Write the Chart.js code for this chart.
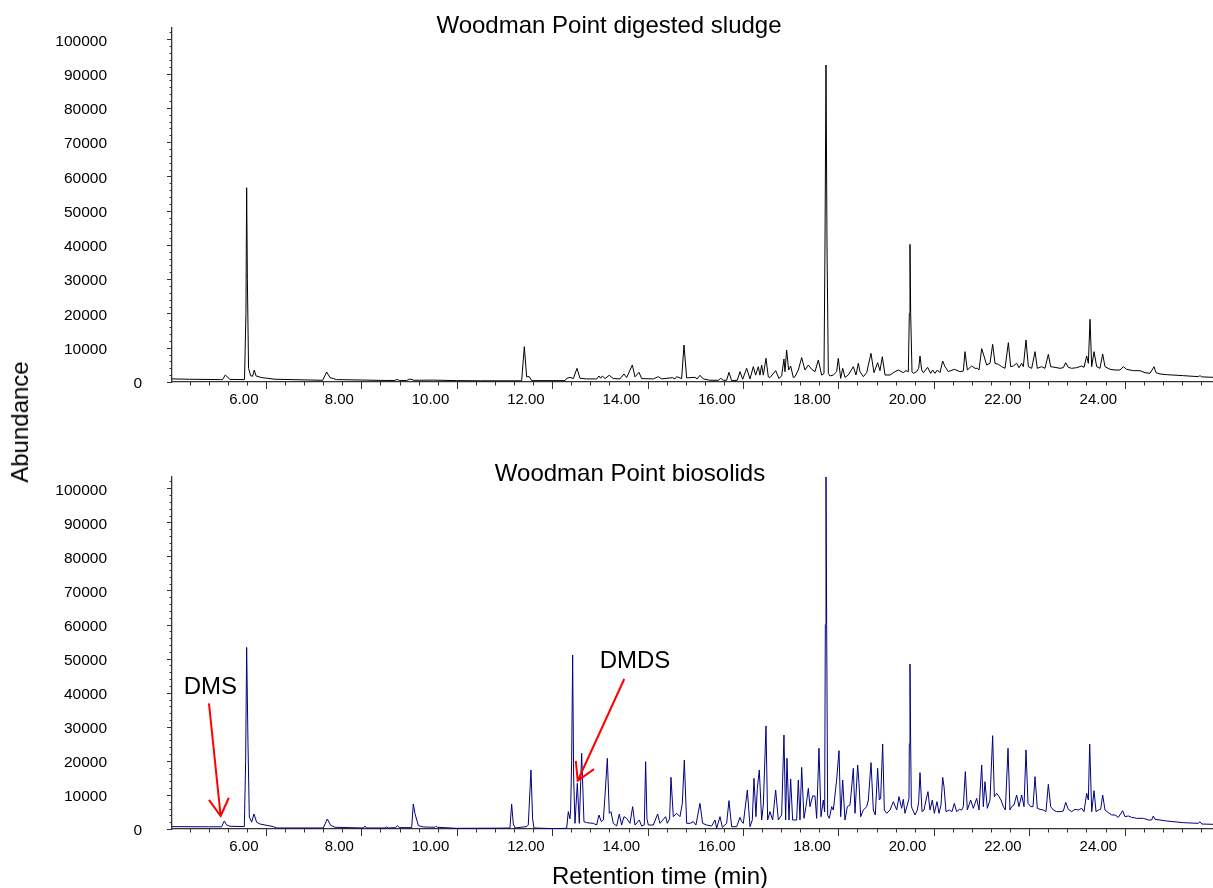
<!DOCTYPE html>
<html>
<head>
<meta charset="utf-8">
<title>Woodman Point chromatograms</title>
<script src="https://cdn.jsdelivr.net/npm/chart.js@4.4.1/dist/chart.umd.min.js"></script>
<style>
  html, body { margin: 0; padding: 0; background: #fff; }
  #page { position: relative; width: 1213px; height: 888px; overflow: hidden; font-family: 'Liberation Sans', Arial, sans-serif; color: #000; }
  canvas { position: absolute; left: 0; }
  #sludge-chart { top: 0; }
  #biosolids-chart { top: 420px; }
  .txt { position: absolute; white-space: nowrap; line-height: 1; font-size: 24px; transform: translate(-50%, -50%); z-index: 2; }
  #y-title { transform: translate(-50%, -50%) rotate(-90deg); }
</style>
</head>
<body>
<div id="page">
  <canvas id="sludge-chart" width="1213" height="420"></canvas>
  <canvas id="biosolids-chart" width="1213" height="468"></canvas>
  <div class="txt" style="left:609px; top:25px;">Woodman Point digested sludge</div>
  <div class="txt" style="left:630px; top:473px;">Woodman Point biosolids</div>
  <div class="txt" id="y-title" style="left:20px; top:422px;">Abundance</div>
  <div class="txt" style="left:660px; top:876px;">Retention time (min)</div>
</div>
<script>
// 保留時間 (min) 與豐度，從圖上逐點讀取
const sludgeTime = [
  4.03, 4.40, 5.05, 5.09, 5.147, 5.245, 5.55, 5.58, 5.595, 5.61, 5.635, 5.68, 5.72, 5.755, 5.79, 5.90, 6.19,
  7.19, 7.272, 7.342, 7.48, 8.50, 8.70, 8.75, 8.80, 8.95, 9.02, 9.10, 9.51, 10.0, 10.5, 11.36, 11.416, 11.465,
  11.52, 11.57, 12.27, 12.303, 12.373, 12.443, 12.52, 12.582, 12.72, 12.932, 12.981, 13.016, 13.05, 13.107,
  13.197, 13.281, 13.421, 13.505, 13.561, 13.68, 13.736, 13.82, 13.876, 14.12, 14.225, 14.295, 14.518, 14.574,
  14.609, 14.714, 14.763, 14.819, 14.994, 15.04, 15.098, 15.168, 15.308, 15.483, 15.532, 15.588, 15.657, 15.706,
  15.762, 15.881, 15.937, 15.993, 16.077, 16.147, 16.216, 16.265, 16.321, 16.356, 16.391, 16.426, 16.482, 16.531,
  16.566, 16.685, 16.754, 16.81, 16.859, 16.88, 16.915, 16.957, 16.999, 17.055, 17.09, 17.16, 17.23, 17.30,
  17.37, 17.44, 17.51, 17.579, 17.649, 17.698, 17.719, 17.74, 17.761, 17.789, 17.824, 17.894, 17.963, 17.998,
  18.048, 18.09, 18.138, 18.208, 18.313, 18.369, 18.418, 18.453, 18.523, 18.593, 18.683, 18.746, 18.823, 18.872,
  18.921, 18.977, 19.082, 19.187, 19.257, 19.361, 19.417, 19.466, 19.487, 19.501, 19.515, 19.543, 19.571, 19.641,
  19.683, 19.711, 19.746, 19.781, 19.871, 19.934, 19.976, 20.025, 20.074, 20.13, 20.186, 20.235, 20.305, 20.43,
  20.549, 20.619, 20.654, 20.703, 20.794, 20.864, 20.913, 20.948, 21.004, 21.052, 21.108, 21.178, 21.234, 21.283,
  21.353, 21.423, 21.493, 21.563, 21.612, 21.667, 21.737, 21.786, 21.842, 21.877, 21.933, 21.982, 22.052, 22.122,
  22.17, 22.261, 22.331, 22.401, 22.45, 22.541, 22.646, 22.716, 22.765, 22.82, 22.89, 22.995, 23.1, 23.149,
  23.205, 23.24, 23.275, 23.31, 23.359, 23.415, 23.484, 23.54, 23.589, 23.694, 23.799, 23.904, 23.974, 24.043,
  24.183, 24.323, 24.428, 24.533, 24.617, 24.658, 24.742, 24.882, 25.231, 25.546, 25.581, 25.616, 25.853
];
const sludgeAbundance = [
  900, 800, 700, 700, 2040, 750, 700, 20000, 56700, 30000, 4000, 1800, 1700, 3500, 1800, 1300, 800,
  500, 2900, 1300, 700, 450, 450, 750, 450, 450, 870, 500, 550, 400, 350, 350, 10300, 1500,
  1550, 400, 400, 1070, 1360, 1000, 3990, 1100, 900, 900, 1750, 1100, 1750, 1000,
  1950, 1000, 900, 2330, 1300, 4960, 1500, 2820, 1000, 900, 1560, 900, 1260, 900,
  1560, 1000, 10800, 1200, 1360, 900, 1950, 900, 500, 500, 1070, 500, 500, 2820,
  400, 500, 3020, 800, 3990, 900, 4470, 2000, 4470, 2000, 4960, 2000, 6900, 1500,
  1300, 3310, 1000, 1800, 6710, 3000, 9340, 3500, 4670, 1300, 1560, 3500, 7100, 3500,
  4960, 3700, 3020, 6420, 2000, 2500, 40000, 92500, 40000, 2500, 1750, 2040, 3000, 6900,
  1070, 3990, 1360, 2040, 4470, 2040, 5450, 3020, 1560, 2720, 8370, 2720, 5640, 3310,
  7390, 2040, 2040, 3020, 3500, 2720, 3310, 3000, 20000, 40170, 20000, 3000, 2530, 3020,
  4000, 7590, 3500, 2720, 4280, 2530, 3500, 2530, 3500, 2720, 6130, 4470, 3020, 3700,
  3020, 3200, 8850, 3500, 4670, 3990, 4000, 3500, 9730, 7590, 4960, 5450, 11000, 5450,
  5160, 4470, 3990, 11480, 4470, 4670, 5450, 4180, 5450, 4470, 12260, 4470, 3990, 8850,
  3990, 4470, 3990, 8070, 4470, 4280, 3990, 4200, 5640, 4280, 3990, 4180, 4670, 4280,
  7590, 5450, 18290, 4470, 8850, 4470, 3990, 8170, 4470, 3700, 3500, 3500, 4470, 3700,
  3310, 3310, 2720, 2530, 4470, 2720, 2330, 2140, 1850, 1560, 1850, 1500, 1360
];

const biosolidsTime = [
  4.03, 4.80, 5.07, 5.126, 5.175, 5.245, 5.546, 5.574, 5.595, 5.623, 5.651, 5.70, 5.748, 5.804, 5.874, 5.979,
  6.154, 6.224, 7.202, 7.286, 7.356, 7.446, 8.041, 8.075, 8.11, 8.495, 8.53, 8.565, 8.718, 8.753, 8.795, 9.054,
  9.089, 9.124, 9.194, 9.298, 9.543, 9.564, 9.592, 9.997, 10.905, 11.115, 11.15, 11.185, 11.22, 11.465, 11.499,
  11.555, 11.59, 11.618, 12.023, 12.303, 12.338, 12.373, 12.387, 12.408, 12.429, 12.45, 12.478, 12.527, 12.569,
  12.618, 12.666, 12.722, 12.862, 12.932, 12.981, 13.03, 13.072, 13.107, 13.156, 13.197, 13.232, 13.281, 13.351,
  13.407, 13.456, 13.505, 13.561, 13.631, 13.687, 13.736, 13.826, 13.875, 13.931, 13.959, 13.987, 14.015, 14.12,
  14.211, 14.26, 14.379, 14.413, 14.462, 14.49, 14.539, 14.609, 14.679, 14.728, 14.77, 14.819, 14.889, 14.959,
  15.014, 15.098, 15.154, 15.238, 15.343, 15.413, 15.448, 15.518, 15.567, 15.657, 15.706, 15.762, 15.867, 15.937,
  15.972, 16.007, 16.091, 16.147, 16.195, 16.23, 16.272, 16.3, 16.342, 16.391, 16.426, 16.482, 16.517, 16.566,
  16.622, 16.685, 16.741, 16.81, 16.859, 16.894, 16.922, 16.964, 16.999, 17.041, 17.125, 17.16, 17.195, 17.23,
  17.279, 17.32, 17.37, 17.404, 17.46, 17.509, 17.544, 17.593, 17.635, 17.684, 17.712, 17.726, 17.74, 17.754,
  17.775, 17.81, 17.859, 17.894, 17.963, 18.013, 18.048, 18.09, 18.138, 18.187, 18.243, 18.264, 18.313, 18.348,
  18.404, 18.432, 18.467, 18.523, 18.593, 18.628, 18.684, 18.732, 18.774, 18.823, 18.858, 18.886, 18.928, 18.963,
  19.012, 19.082, 19.152, 19.222, 19.27, 19.326, 19.361, 19.396, 19.445, 19.48, 19.487, 19.501, 19.515, 19.529,
  19.543, 19.606, 19.655, 19.683, 19.711, 19.753, 19.795, 19.837, 19.878, 19.92, 19.969, 20.011, 20.067, 20.109,
  20.151, 20.186, 20.214, 20.256, 20.326, 20.382, 20.43, 20.479, 20.535, 20.584, 20.619, 20.661, 20.703, 20.773,
  20.829, 20.899, 20.948, 21.004, 21.038, 21.073, 21.122, 21.178, 21.234, 21.269, 21.318, 21.367, 21.409, 21.458,
  21.5, 21.556, 21.597, 21.632, 21.681, 21.737, 21.786, 21.842, 21.891, 21.933, 21.975, 22.031, 22.08, 22.122,
  22.17, 22.226, 22.296, 22.352, 22.401, 22.45, 22.506, 22.576, 22.646, 22.716, 22.765, 22.82, 22.89, 22.96,
  23.03, 23.1, 23.149, 23.205, 23.24, 23.268, 23.31, 23.359, 23.401, 23.45, 23.498, 23.54, 23.589, 23.659,
  23.729, 23.799, 23.869, 23.959, 24.008, 24.078, 24.148, 24.253, 24.393, 24.498, 24.567, 24.602, 24.637, 24.742,
  24.882, 25.231, 25.546, 25.581, 25.616, 25.853
];
const biosolidsAbundance = [
  700, 650, 650, 2350, 1200, 800, 700, 20000, 53300, 25000, 3500, 2000, 4400, 2000, 1470, 1170,
  700, 300, 300, 2935, 1100, 500, 300, 880, 300, 300, 600, 300, 400, 980, 400, 400,
  7340, 4500, 1000, 600, 500, 800, 500, 200, 250, 300, 7340, 1500, 300, 700, 1200,
  17320, 3000, 300, 100, 200, 5090, 3000, 5580, 20000, 51070, 15000, 1660, 13400, 1660,
  22210, 2150, 1860, 1660, 1170, 4110, 2150, 2640, 9690, 20740, 4600, 5090, 1660, 880,
  4400, 1170, 3620, 3130, 1660, 6560, 1170, 2640, 880, 1200, 19760, 3000, 1170, 1170,
  4400, 1660, 3620, 1660, 3000, 15170, 3620, 4600, 3620, 7530, 20250, 1660, 1660, 2150,
  1170, 7530, 1660, 1170, 880, 2640, 200, 3620, 490, 1660, 8320, 685, 685, 3420,
  2150, 1660, 11450, 685, 2640, 14870, 3620, 11940, 17320, 2640, 7040, 30230, 2640, 5090,
  2640, 11450, 2640, 4110, 27590, 2640, 20740, 2640, 14680, 2640, 2640, 14380, 2640, 18100,
  3130, 6560, 11940, 6560, 9690, 9690, 3130, 23680, 3620, 8510, 5000, 60000, 106000, 60000,
  4000, 3130, 6560, 5580, 14380, 22990, 3620, 14380, 2640, 6560, 7040, 9980, 17810, 4600,
  18790, 13400, 3620, 5580, 6560, 8510, 19470, 5580, 4110, 17810, 8510, 9000, 24950, 5580,
  4600, 5580, 8020, 5580, 9490, 6070, 8710, 4600, 7040, 9000, 25000, 48430, 25000, 7000,
  6070, 4110, 5580, 8000, 16540, 5090, 5580, 8510, 10960, 5580, 8510, 4600, 8020, 4600,
  7040, 15170, 12430, 5090, 5580, 5090, 7530, 5090, 5770, 5580, 6560, 16830, 5580, 8510,
  6070, 9000, 5580, 18790, 6560, 13890, 6070, 8510, 27400, 9490, 10470, 9490, 8510, 6560,
  5580, 23680, 5580, 6560, 7040, 9980, 6560, 9980, 6560, 23190, 7530, 6560, 6560, 15360,
  6070, 5770, 5580, 5090, 13110, 6560, 5580, 5090, 5090, 5300, 7830, 5770, 5090, 5770,
  5580, 6070, 5090, 10470, 8510, 24950, 5090, 11250, 5090, 5580, 5770, 9980, 5580, 4790,
  4110, 4110, 3420, 5380, 3620, 3820, 3420, 3130, 3130, 2640, 2640, 3820, 2840, 2640,
  2350, 1860, 1660, 2150, 1470, 1370
];

// 軸範圍與刻度
const timeMin = 4.03;
const timeMax = 25.853;
const abundanceMax = 103300;
const timeTicks = [];
for (let k = 11; k <= 64; k++) {
  timeTicks.push(Number((k * 0.4).toFixed(1)));
}
const abundanceTicks = [];
for (let v = 0; v <= 102000; v += 2000) {
  abundanceTicks.push(v);
}

// 標註 (資料座標)
const annotations = [
  { text: 'DMS', label: [4.836, 41830], tail: [4.805, 36890], tip: [5.05, 3815] },
  { text: 'DMDS', label: [13.736, 49600], tail: [13.511, 44020], tip: [12.535, 14170] }
];

const fontFamily = "'Liberation Sans', Arial, sans-serif";
const axisColor = '#333333';

function isMajorTime(value) {
  return Math.abs(value / 2 - Math.round(value / 2)) < 1e-6;
}

const tickMarks = {
  id: 'tickMarks',
  afterDraw(chart) {
    const { ctx } = chart;
    const xs = chart.scales.x;
    const ys = chart.scales.y;
    ctx.save();
    ctx.strokeStyle = axisColor;
    ctx.lineWidth = 1;
    ctx.beginPath();
    xs.ticks.forEach(t => {
      const px = Math.round(xs.getPixelForValue(t.value)) + 0.5;
      const len = isMajorTime(t.value) ? 7 : 3.5;
      ctx.moveTo(px, xs.top);
      ctx.lineTo(px, xs.top + len);
    });
    ys.ticks.forEach(t => {
      const py = Math.round(ys.getPixelForValue(t.value)) + 0.5;
      const len = t.value % 10000 === 0 ? 5 : 2.5;
      ctx.moveTo(ys.right - len, py);
      ctx.lineTo(ys.right, py);
    });
    ctx.stroke();
    // 原圖的 0 標籤位置比其他刻度偏右
    ctx.fillStyle = '#000';
    ctx.font = `15.5px ${fontFamily}`;
    ctx.textAlign = 'right';
    ctx.textBaseline = 'middle';
    ctx.fillText('0', ys.right - 30, ys.getPixelForValue(0) + 2);
    ctx.restore();
  }
};

const arrowNotes = {
  id: 'arrowNotes',
  afterDatasetsDraw(chart) {
    const { ctx } = chart;
    const xs = chart.scales.x;
    const ys = chart.scales.y;
    ctx.save();
    annotations.forEach(note => {
      ctx.fillStyle = '#000';
      ctx.font = `24px ${fontFamily}`;
      ctx.textAlign = 'center';
      ctx.textBaseline = 'middle';
      ctx.fillText(note.text, xs.getPixelForValue(note.label[0]), ys.getPixelForValue(note.label[1]) + 1);

      const x1 = xs.getPixelForValue(note.tail[0]);
      const y1 = ys.getPixelForValue(note.tail[1]);
      const x2 = xs.getPixelForValue(note.tip[0]);
      const y2 = ys.getPixelForValue(note.tip[1]);
      const back = Math.atan2(y1 - y2, x1 - x2);
      const headLen = 20;
      const spread = Math.PI / 6;
      ctx.strokeStyle = '#ff0000';
      ctx.lineWidth = 2;
      ctx.beginPath();
      ctx.moveTo(x1, y1);
      ctx.lineTo(x2, y2);
      ctx.moveTo(x2 + headLen * Math.cos(back - spread), y2 + headLen * Math.sin(back - spread));
      ctx.lineTo(x2, y2);
      ctx.lineTo(x2 + headLen * Math.cos(back + spread), y2 + headLen * Math.sin(back + spread));
      ctx.stroke();
    });
    ctx.restore();
  }
};

function buildChart(canvasId, times, values, color, padTop, axisHeight, extraPlugins) {
  const ctx = document.getElementById(canvasId).getContext('2d');
  return new Chart(ctx, {
    type: 'line',
    data: {
      datasets: [{
        data: times.map((t, i) => ({ x: t, y: values[i] })),
        borderColor: color,
        borderWidth: 1,
        pointRadius: 0,
        tension: 0,
        fill: false
      }]
    },
    options: {
      responsive: false,
      animation: false,
      layout: { padding: { top: padTop, left: 0, right: 0, bottom: 0 } },
      plugins: {
        legend: { display: false },
        tooltip: { enabled: false },
        title: { display: false }
      },
      scales: {
        x: {
          type: 'linear',
          min: timeMin,
          max: timeMax,
          grid: { display: false, drawTicks: false },
          border: { display: true, color: axisColor, width: 1.3 },
          afterBuildTicks: scale => {
            scale.ticks = timeTicks.map(v => ({ value: v }));
          },
          afterFit: scale => {
            scale.height = axisHeight;
            scale.paddingLeft = 0;
            scale.paddingRight = 0;
          },
          ticks: {
            autoSkip: false,
            maxRotation: 0,
            minRotation: 0,
            align: 'end',
            labelOffset: -7.5,
            padding: 9,
            color: '#000',
            font: { family: fontFamily, size: 15 },
            callback: value => (isMajorTime(value) ? value.toFixed(2) : '')
          }
        },
        y: {
          type: 'linear',
          min: 0,
          max: abundanceMax,
          grid: { display: false, drawTicks: false },
          border: { display: true, color: axisColor, width: 1.3 },
          afterBuildTicks: scale => {
            scale.ticks = abundanceTicks.map(v => ({ value: v }));
          },
          afterFit: scale => {
            // 標籤與軸距離很大，不讓它撐開上下邊距
            scale.width = 172;
            scale.paddingTop = 0;
            scale.paddingBottom = 0;
          },
          ticks: {
            autoSkip: false,
            padding: 65,
            labelOffset: 2,
            color: '#000',
            font: { family: fontFamily, size: 15.5 },
            callback: value => (value > 0 && value % 10000 === 0 ? String(value) : '')
          }
        }
      }
    },
    plugins: [tickMarks, ...extraPlugins]
  });
}

buildChart('sludge-chart', sludgeTime, sludgeAbundance, '#000000', 28, 38, []);
buildChart('biosolids-chart', biosolidsTime, biosolidsAbundance, '#000080', 57, 59, [arrowNotes]);
</script>
</body>
</html>
